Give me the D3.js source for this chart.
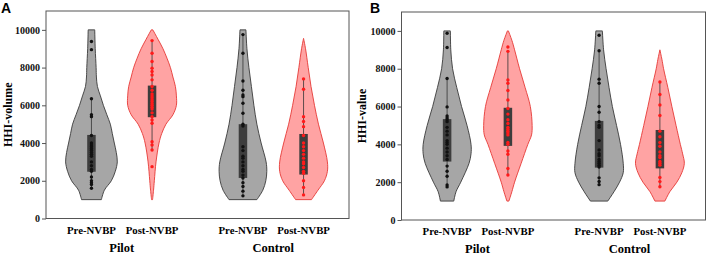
<!DOCTYPE html>
<html>
<head>
<meta charset="utf-8">
<script src="https://cdn.jsdelivr.net/npm/d3@7"></script>
<style>
  body { margin: 0; background: #fff; }
  svg text { font-family: "Liberation Serif", "Times New Roman", serif; font-weight: bold; }
</style>
</head>
<body>
<div id="chart"></div>
<script>
// categories, groups, ticks
const categories = ["Pre-NVBP", "Post-NVBP", "Pre-NVBP", "Post-NVBP"];
const groups = ["Pilot", "Control"];
const positions = [1, 2, 3.5, 4.5];
const yTicks = [0, 2000, 4000, 6000, 8000, 10000];
const kinds = ["pre", "post", "pre", "post"];

// violin outlines: [value, density]
const volShapePilotPre = [[1000,10],[1500,13],[2000,20],[2500,24],[3000,26],[3500,25],[4000,23],[4500,21],[5000,19],[5500,15.5],[6000,12],[6500,9],[7000,6],[7500,5],[8000,4.7],[9000,3.8],[10000,3.3]];
const volShapePilotPost = [[1000,0.5],[1500,1.5],[2000,2.3],[3000,4],[4000,7],[4500,9.7],[5000,14],[5500,21],[6000,24.5],[6500,24.5],[7000,23.5],[7500,21],[8000,18.5],[8500,15],[9000,11],[9500,6],[10000,0.8]];
const volShapeControlPre = [[1000,14],[1500,20],[2000,23],[2500,24],[3000,23.3],[4000,18.3],[5000,14],[6000,11],[7000,8.5],[8000,6],[9000,4],[10000,3]];
const volShapeControlPost = [[1000,8],[1500,14.5],[2000,21],[2500,24],[3000,24],[4000,20],[5000,15],[6000,11],[7000,7.5],[8000,4.7],[9000,2],[9550,0]];

const valShapePilotPre = [[1000,6.7],[1500,9],[2000,13.7],[3000,22],[3500,24],[4000,24],[5000,20],[6000,14.5],[7000,9.7],[8000,5.5],[9000,3.7],[10000,3.3]];
const valShapePilotPost = [[1000,1],[1500,4],[2000,6.7],[3000,13.3],[4000,20],[4500,23.7],[5000,24.3],[6000,22.5],[7000,17.3],[8000,11.7],[9000,6.7],[9500,4],[10000,0.5]];
const valShapeControlPre = [[1000,8.7],[1500,15],[2000,20.5],[2500,24.2],[3000,24.2],[4000,21.5],[5000,17.5],[6000,13.3],[7000,10],[8000,7],[9000,4.5],[10000,3.3]];
const valShapeControlPost = [[1000,5],[1500,10],[2000,17],[2500,22],[3000,24.5],[3500,22.8],[4000,20.5],[5000,16.2],[6000,12],[7000,8],[8000,3.7],[8500,2],[9000,0]];

// individual points
const volPilotPre = [9380, 8950, 6350, 5500, 5400, 4400, 4000, 3900, 3800, 3700, 3600, 3500, 3400, 3300, 3000, 2800, 2600, 2500, 2200, 2000, 1900, 1800, 1600];
const volPilotPost = [9430, 8760, 8320, 7970, 7790, 7610, 7350, 7000, 6800, 6600, 6500, 6400, 6300, 6200, 6100, 6000, 5900, 5800, 5600, 5400, 5225, 5050, 4075, 3900, 3630, 2750];
const volControlPre = [9750, 8760, 7290, 6800, 6550, 6460, 6110, 5580, 5000, 4900, 3800, 3600, 3300, 3200, 3000, 2800, 2600, 2500, 2300, 2150, 1900, 1700, 1450, 1200];
const volControlPost = [7400, 6850, 5400, 5140, 4870, 4400, 4000, 3800, 3600, 3400, 3200, 3000, 2900, 2700, 2500, 2400, 2000, 1650, 1250];

const valPilotPre = [9880, 9120, 7480, 5980, 5500, 5400, 5300, 5200, 4900, 4700, 4500, 4200, 4100, 4000, 3800, 3600, 3400, 3200, 2850, 2580, 2310, 1850, 1750];
const valPilotPost = [9150, 8920, 7410, 7230, 6850, 6350, 5900, 5600, 5300, 5100, 4900, 4800, 4700, 4600, 4500, 4100, 4000, 3650, 3480, 2720, 2380];
const valControlPre = [9770, 8950, 7450, 7230, 6000, 5700, 5200, 5000, 4900, 4200, 3700, 3500, 3400, 3200, 3100, 3000, 2900, 2800, 2230, 2040, 1870];
const valControlPost = [7300, 6640, 6080, 5530, 4700, 4400, 4100, 3900, 3600, 3400, 3300, 3100, 3000, 2900, 2250, 2030, 1760];

// boxes: [q1, q3, whisker low, whisker high]
const volBoxes = [[2480, 4430, 1600, 6350], [5370, 7045, 3630, 9430], [2150, 5000, 1200, 9750], [2330, 4480, 1250, 7400]];
const valBoxes = [[3090, 5335, 1750, 7480], [3920, 5935, 2380, 8920], [2770, 5240, 1870, 8950], [2730, 4760, 1760, 7300]];

const svg = d3.select("#chart").append("svg")
    .attr("width", 708)
    .attr("height", 255);

const colors = {
    pre: { fill: "#a6a6a6", stroke: "#3a3a3a", dot: "#111" },
    post: { fill: "#ffa3a3", stroke: "#e53935", dot: "#ff1a1a" }
};

function drawPanel(opt) {
    let x = d3.scaleLinear().domain([0.25, 5.25]).range([opt.left, opt.right]);
    let y = d3.scaleLinear().domain([0, 11000]).range([opt.bottom, opt.top]);
    let w = d3.scaleLinear().domain([0, 25]).range([0, 0.41]);
    let g = svg.append("g");

    g.append("rect")
        .attr("x", opt.left).attr("y", opt.top)
        .attr("width", opt.right - opt.left)
        .attr("height", opt.bottom - opt.top)
        .attr("fill", "none")
        .attr("stroke", "#555")
        .attr("stroke-width", 1);

    let ax = g.append("g")
        .attr("transform", `translate(${opt.left},0)`)
        .call(d3.axisLeft(y).tickValues(yTicks).tickSize(4).tickSizeOuter(0).tickFormat(d3.format("d")));
    ax.select(".domain").remove();
    ax.selectAll(".tick line").attr("stroke", "#555");
    ax.selectAll(".tick text")
        .style("font-size", "10px")
        .style("font-family", "'Liberation Serif', serif")
        .style("font-weight", "bold")
        .attr("fill", "#111")
        .attr("x", -6);

    opt.shapes.forEach((shape, i) => {
        let p = positions[i];
        let c = colors[kinds[i]];
        let area = d3.area()
            .y(d => y(d[0]))
            .x0(d => x(p - w(d[1])))
            .x1(d => x(p + w(d[1])))
            .curve(d3.curveCatmullRom);
        g.append("path")
            .datum(shape)
            .attr("d", area)
            .attr("fill", c.fill)
            .attr("stroke", c.stroke)
            .attr("stroke-width", 0.9);

        let b = opt.boxes[i];
        g.append("line")
            .attr("x1", x(p)).attr("x2", x(p))
            .attr("y1", y(b[2])).attr("y2", y(b[3]))
            .attr("stroke", "#333")
            .attr("stroke-width", 0.8);
        g.append("rect")
            .attr("x", x(p - 0.07))
            .attr("width", x(p + 0.07) - x(p - 0.07))
            .attr("y", y(b[1]))
            .attr("height", y(b[0]) - y(b[1]))
            .attr("fill", "#3d3d3d");

        g.selectAll(null)
            .data(opt.points[i])
            .enter()
            .append("circle")
            .attr("cx", x(p))
            .attr("cy", d => y(d))
            .attr("r", 1.7)
            .attr("fill", c.dot);

        g.append("text")
            .attr("x", x(p))
            .attr("y", opt.bottom + 15)
            .attr("text-anchor", "middle")
            .attr("font-size", "10.8px")
            .text(categories[i]);
    });

    groups.forEach((name, j) => {
        g.append("text")
            .attr("x", x((positions[2 * j] + positions[2 * j + 1]) / 2))
            .attr("y", opt.bottom + 33)
            .attr("text-anchor", "middle")
            .attr("font-size", "12.5px")
            .text(name);
    });

    let cy = (opt.top + opt.bottom) / 2;
    g.append("text")
        .attr("transform", `translate(${opt.labelX},${cy}) rotate(-90)`)
        .attr("text-anchor", "middle")
        .attr("font-size", "12px")
        .text(opt.yLabel);

    g.append("text")
        .attr("x", opt.letterX)
        .attr("y", 13)
        .style("font-family", "'Liberation Sans', Arial, sans-serif")
        .attr("font-size", "14px")
        .text(opt.letter);
}

drawPanel({
    left: 46, right: 349, top: 11, bottom: 218.5,
    shapes: [volShapePilotPre, volShapePilotPost, volShapeControlPre, volShapeControlPost],
    points: [volPilotPre, volPilotPost, volControlPre, volControlPost],
    boxes: volBoxes,
    yLabel: "HHI-volume", labelX: 12, letter: "A", letterX: 1
});

drawPanel({
    left: 401.5, right: 705.5, top: 12, bottom: 220,
    shapes: [valShapePilotPre, valShapePilotPost, valShapeControlPre, valShapeControlPost],
    points: [valPilotPre, valPilotPost, valControlPre, valControlPost],
    boxes: valBoxes,
    yLabel: "HHI-value", labelX: 366, letter: "B", letterX: 370
});
</script>
</body>
</html>
